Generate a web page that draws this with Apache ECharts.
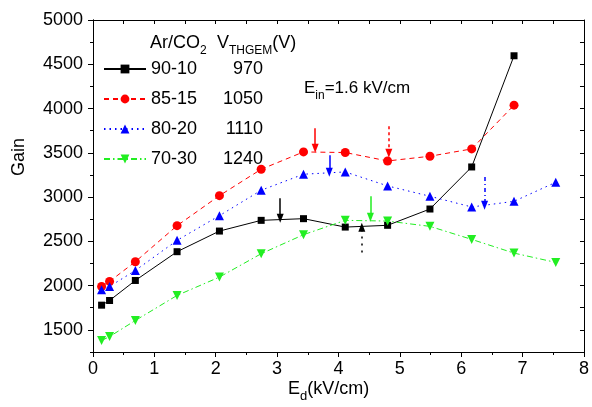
<!DOCTYPE html>
<html>
<head>
<meta charset="utf-8">
<script src="https://cdn.jsdelivr.net/npm/echarts@6/dist/echarts.min.js"></script>
<style>
html,body{margin:0;padding:0;background:#fff;}
#c{width:592px;height:407px;}
</style>
</head>
<body>
<div id="c"></div>
<script>
// ---- data ----
var names = ['90-10', '85-15', '80-20', '70-30'];
var voltages = ['970', '1050', '1110', '1240'];
var xs = [0.14, 0.27, 0.69, 1.37, 2.06, 2.74, 3.43, 4.11, 4.80, 5.49, 6.17, 6.86, 7.54];
var gain9010 = [1779, 1832, 2058, 2383, 2616, 2737, 2756, 2661, 2681, 2865, 3340, 4596];
var gain8515 = [1990, 2047, 2270, 2677, 3016, 3314, 3510, 3503, 3408, 3461, 3544, 4038];
var gain8020 = [1953, 1990, 2171, 2511, 2790, 3077, 3258, 3284, 3126, 3009, 2888, 2952, 3167];
var gain7030 = [1380, 1424, 1606, 1889, 2096, 2360, 2575, 2737, 2729, 2669, 2522, 2367, 2262];
var yMajorTicks = [1500, 2000, 2500, 3000, 3500, 4000, 4500, 5000];
var yMinorTicks = [1250, 1750, 2250, 2750, 3250, 3750, 4250, 4750];
var yAllTicks = [1250, 1500, 1750, 2000, 2250, 2500, 2750, 3000, 3250, 3500, 3750, 4000, 4250, 4500, 4750, 5000];
// arrows: [seriesIndex, x, yFrom, yTo, dash]
var arrows = [
  [0, 3.05, 2986, 2760, 'solid'],
  [0, 4.38, 2375, 2658, [2, 5]],
  [1, 3.62, 3778, 3552, 'solid'],
  [1, 4.82, 3800, 3495, [3, 3]],
  [2, 3.85, 3472, 3280, 'solid'],
  [2, 6.38, 3227, 2907, [4, 3, 1, 3]],
  [3, 4.52, 3009, 2771, 'solid']
];

var FONT = 'Liberation Sans, Arial, sans-serif';
var colors = ['#000000', '#ff0000', '#0000ff', '#22ee22'];
var symbols = ['rect', 'circle', 'triangle', 'path://M0,0 L10,0 L5,9 Z'];
var sizes = [7, 9, 9, 9];
var dashes = ['solid', [5, 4], [1.5, 4], [6, 3, 1.5, 3]];
var gains = [gain9010, gain8515, gain8020, gain7030];

function pairs(g) {
  var out = [];
  for (var i = 0; i < g.length; i++) out.push([xs[i], g[i]]);
  return out;
}

var series = names.map(function (n, i) {
  var ml = arrows.filter(function (a) { return a[0] === i; }).map(function (a) {
    return [
      { coord: [a[1], a[2]], lineStyle: { type: a[4], color: colors[i], width: 1.5 } },
      { coord: [a[1], a[3]] }
    ];
  });
  return {
    name: n,
    type: 'line',
    data: pairs(gains[i]),
    symbol: symbols[i],
    symbolSize: sizes[i],
    showSymbol: true,
    itemStyle: { color: colors[i] },
    lineStyle: { color: colors[i], width: 1, type: dashes[i] },
    animation: false,
    z: 3,
    markLine: {
      silent: true,
      animation: false,
      symbol: ['none', 'triangle'],
      symbolSize: [7, 9],
      label: { show: false },
      data: ml
    }
  };
});

var chart = echarts.init(document.getElementById('c'), null, { renderer: 'canvas' });
var axisBase = {
  axisLine: { show: true, lineStyle: { color: '#000', width: 1 } },
  splitLine: { show: false }
};
chart.setOption({
  backgroundColor: '#ffffff',
  animation: false,
  textStyle: { fontFamily: FONT },
  grid: { left: 93, top: 20, width: 492, height: 332, containLabel: false },
  xAxis: [
    Object.assign({}, axisBase, {
      type: 'value', min: 0, max: 8, interval: 1, position: 'bottom',
      axisTick: { show: true, inside: false, length: 5, lineStyle: { color: '#000' } },
      minorTick: { show: true, splitNumber: 2, length: 3, lineStyle: { color: '#000' } },
      minorSplitLine: { show: false },
      axisLabel: { fontSize: 18, color: '#000', fontFamily: FONT, margin: 8, formatter: function (v) { return String(v); } }
    }),
    Object.assign({}, axisBase, {
      type: 'value', min: 0, max: 8, interval: 0.5, position: 'top',
      axisTick: { show: true, inside: true, length: 4, lineStyle: { color: '#000' } },
      axisLabel: { show: false }
    })
  ],
  yAxis: [
    Object.assign({}, axisBase, {
      type: 'value', min: 1250, max: 5000, position: 'left',
      axisTick: { show: true, inside: false, length: 5, customValues: yMajorTicks, lineStyle: { color: '#000' } },
      axisLabel: { fontSize: 18, color: '#000', fontFamily: FONT, margin: 10, customValues: yMajorTicks, formatter: function (v) { return String(v); } }
    }),
    Object.assign({}, axisBase, {
      type: 'value', min: 1250, max: 5000, position: 'left',
      axisTick: { show: true, inside: false, length: 3, customValues: yMinorTicks, lineStyle: { color: '#000' } },
      axisLabel: { show: false, customValues: yMinorTicks }
    }),
    Object.assign({}, axisBase, {
      type: 'value', min: 1250, max: 5000, position: 'right',
      axisTick: { show: true, inside: true, length: 4, customValues: yAllTicks, lineStyle: { color: '#000' } },
      axisLabel: { show: false, customValues: yAllTicks }
    })
  ],
  legend: {
    orient: 'vertical',
    left: 103,
    top: 60,
    padding: 0,
    itemWidth: 42,
    itemHeight: 11,
    itemGap: 12,
    selectedMode: false,
    data: names,
    formatter: function (n) {
      return '{a|' + n + '}{b|' + voltages[names.indexOf(n)] + '}';
    },
    textStyle: {
      fontFamily: FONT, fontSize: 18, color: '#000',
      rich: {
        a: { fontFamily: FONT, fontSize: 18, color: '#000', width: 50 },
        b: { fontFamily: FONT, fontSize: 18, color: '#000', width: 62, align: 'right' }
      }
    }
  },
  graphic: [
    {
      type: 'text', left: 150, top: 34,
      style: {
        text: '{a|Ar/CO}{s|2}',
        rich: {
          a: { fontFamily: FONT, fontSize: 18, fill: '#000', verticalAlign: 'bottom', lineHeight: 22 },
          s: { fontFamily: FONT, fontSize: 12, fill: '#000', verticalAlign: 'bottom', lineHeight: 16, padding: [0, 0, -5, 0] }
        }
      }
    },
    {
      type: 'text', left: 217, top: 34,
      style: {
        text: '{a|V}{s|THGEM}{a|(V)}',
        rich: {
          a: { fontFamily: FONT, fontSize: 18, fill: '#000', verticalAlign: 'bottom', lineHeight: 22 },
          s: { fontFamily: FONT, fontSize: 12, fill: '#000', verticalAlign: 'bottom', lineHeight: 16, padding: [0, 0, -5, 0] }
        }
      }
    },
    {
      type: 'text', left: 304, top: 80,
      style: {
        text: '{a|E}{s|in}{a|=1.6 kV/cm}',
        rich: {
          a: { fontFamily: FONT, fontSize: 17, fill: '#000', verticalAlign: 'bottom', lineHeight: 21 },
          s: { fontFamily: FONT, fontSize: 12, fill: '#000', verticalAlign: 'bottom', lineHeight: 16, padding: [0, 0, -5, 0] }
        }
      }
    },
    {
      type: 'text', left: 288, top: 380,
      style: {
        text: '{a|E}{s|d}{a|(kV/cm)}',
        rich: {
          a: { fontFamily: FONT, fontSize: 18, fill: '#000', verticalAlign: 'bottom', lineHeight: 22 },
          s: { fontFamily: FONT, fontSize: 13, fill: '#000', verticalAlign: 'bottom', lineHeight: 16, padding: [0, 0, -5, 0] }
        }
      }
    },
    {
      type: 'text', x: 19, y: 157, rotation: Math.PI / 2,
      style: {
        text: 'Gain', fontFamily: FONT, fontSize: 18, fill: '#000',
        align: 'center', verticalAlign: 'middle'
      }
    }
  ],
  series: series
});
</script>
</body>
</html>
